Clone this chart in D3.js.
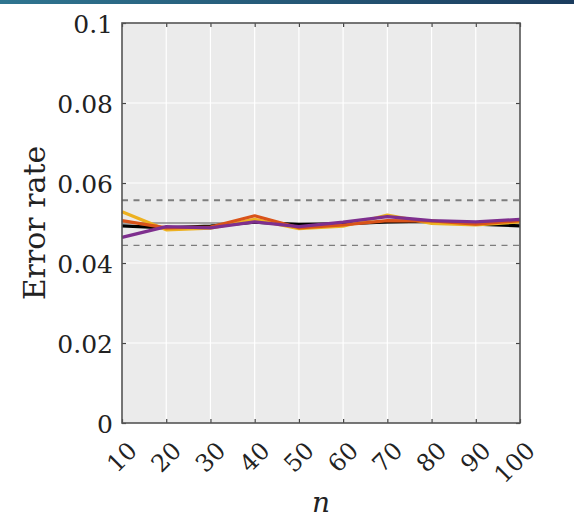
<!DOCTYPE html>
<html>
<head>
<meta charset="utf-8">
<script src="https://cdn.jsdelivr.net/npm/d3@7"></script>
<style>
  html, body { margin: 0; padding: 0; background: #ffffff; }
  svg { display: block; }
  text { font-family: "DejaVu Serif", "Liberation Serif", serif; fill: #222; }
</style>
</head>
<body>
<svg id="chart" width="574" height="523"></svg>
<script>
// Sample sizes on the x axis
const nValues = [10, 20, 30, 40, 50, 60, 70, 80, 90, 100];

// Empirical error rates for each method
const seriesBlack  = [0.0493, 0.0488, 0.0492, 0.0502, 0.0496, 0.0498, 0.0503, 0.0505, 0.0497, 0.0493];
const seriesYellow = [0.0528, 0.0483, 0.0487, 0.0509, 0.0486, 0.0492, 0.0520, 0.0499, 0.0495, 0.0503];
const seriesOrange = [0.0506, 0.0488, 0.0490, 0.0518, 0.0488, 0.0495, 0.0506, 0.0505, 0.0497, 0.0506];
const seriesPurple = [0.0464, 0.0491, 0.0488, 0.0503, 0.0491, 0.0502, 0.0516, 0.0506, 0.0503, 0.0509];

// Nominal level and its acceptance band
const nominal = 0.05;
const bandUpper = 0.0557;
const bandLower = 0.0444;

const yTicks = [0, 0.02, 0.04, 0.06, 0.08, 0.1];
const yTickLabels = ["0", "0.02", "0.04", "0.06", "0.08", "0.1"];

const svg = d3.select("#chart");

// Header strip
const grad = svg.append("defs").append("linearGradient").attr("id", "hdr");
grad.append("stop").attr("offset", "0%").attr("stop-color", "#2f7590");
grad.append("stop").attr("offset", "100%").attr("stop-color", "#1b3c5e");
svg.append("rect").attr("x", 0).attr("y", 0).attr("width", 574).attr("height", 4).attr("fill", "url(#hdr)");

const L = 122, R = 520, T = 23, B = 423;
const x = d3.scaleLinear().domain([10, 100]).range([L, R]);
const y = d3.scaleLinear().domain([0, 0.1]).range([B, T]);

// Panel background
svg.append("rect").attr("x", L).attr("y", T).attr("width", R - L).attr("height", B - T).attr("fill", "#ebebeb");

// Grid
const grid = svg.append("g").attr("stroke", "#ffffff").attr("stroke-width", 1.2);
grid.selectAll("line.gx").data(nValues.slice(1, -1)).join("line")
  .attr("x1", d => x(d)).attr("x2", d => x(d)).attr("y1", T).attr("y2", B);
grid.selectAll("line.gy").data(yTicks.slice(1, -1)).join("line")
  .attr("x1", L).attr("x2", R).attr("y1", d => y(d)).attr("y2", d => y(d));

// Reference lines
svg.append("line").attr("x1", L).attr("x2", R).attr("y1", y(nominal)).attr("y2", y(nominal))
  .attr("stroke", "#8a8a8a").attr("stroke-width", 1.3);
svg.append("line").attr("x1", L).attr("x2", R).attr("y1", y(bandUpper)).attr("y2", y(bandUpper))
  .attr("stroke", "#7d7d7d").attr("stroke-width", 2).attr("stroke-dasharray", "6,5.5");
svg.append("line").attr("x1", L).attr("x2", R).attr("y1", y(bandLower)).attr("y2", y(bandLower))
  .attr("stroke", "#7d7d7d").attr("stroke-width", 1.4).attr("stroke-dasharray", "6,5.5");

// Series
const line = d3.line().x((d, i) => x(nValues[i])).y(d => y(d));
const series = [
  { data: seriesBlack,  color: "#000000" },
  { data: seriesYellow, color: "#EDB120" },
  { data: seriesOrange, color: "#D95319" },
  { data: seriesPurple, color: "#7E2F8E" }
];
svg.append("g").selectAll("path").data(series).join("path")
  .attr("d", d => line(d.data))
  .attr("fill", "none")
  .attr("stroke", d => d.color)
  .attr("stroke-width", 3.2)
  .attr("stroke-linejoin", "round");

// Axes with inward ticks on all four sides
const axisStyle = g => {
  g.attr("font-family", null).attr("font-size", null);
  g.select(".domain").remove();
  g.selectAll(".tick line").attr("stroke", "#444").attr("stroke-width", 1.2);
};
svg.append("g").attr("transform", `translate(${L},0)`)
  .call(d3.axisLeft(y).tickValues(yTicks).tickSize(-4).tickPadding(9)
        .tickFormat((d, i) => yTickLabels[i]))
  .call(axisStyle)
  .call(g => g.selectAll("text").attr("font-size", 25).attr("fill", "#222").attr("dy", "0.36em"));
svg.append("g").attr("transform", `translate(${R},0)`)
  .call(d3.axisRight(y).tickValues(yTicks).tickSize(-4).tickFormat(""))
  .call(axisStyle);
svg.append("g").attr("transform", `translate(0,${T})`)
  .call(d3.axisTop(x).tickValues(nValues).tickSize(-4).tickFormat(""))
  .call(axisStyle);
const xAxis = svg.append("g").attr("transform", `translate(0,${B})`)
  .call(d3.axisBottom(x).tickValues(nValues).tickSize(-4).tickFormat(d3.format("d")))
  .call(axisStyle);
xAxis.selectAll("text")
  .attr("font-size", 24).attr("fill", "#222")
  .attr("text-anchor", "end")
  .attr("x", 0).attr("y", 0)
  .attr("dy", "0.36em")
  .attr("transform", "translate(10,23) rotate(-45)");

// Frame
svg.append("rect").attr("x", L).attr("y", T).attr("width", R - L).attr("height", B - T)
  .attr("fill", "none").attr("stroke", "#555").attr("stroke-width", 1.6);

// Axis titles
svg.append("text").attr("transform", `translate(45,${(T + B) / 2}) rotate(-90)`)
  .attr("text-anchor", "middle").attr("font-size", 30).text("Error rate");
svg.append("text").attr("x", (L + R) / 2).attr("y", 512)
  .attr("text-anchor", "middle").attr("font-size", 28).attr("font-style", "italic").text("n");
</script>
</body>
</html>
